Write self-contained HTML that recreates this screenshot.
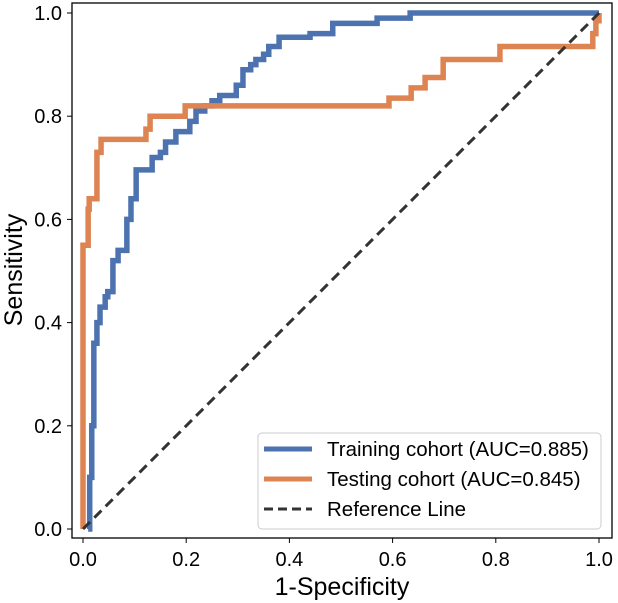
<!DOCTYPE html>
<html><head><meta charset="utf-8"><style>
html,body{margin:0;padding:0;background:#fff;}
svg{display:block;font-family:"Liberation Sans",Arial,sans-serif;}
</style></head><body>
<svg id="chart" width="618" height="603" viewBox="0 0 618 603">
<rect x="0" y="0" width="618" height="603" fill="#fff"/>
<g id="series"></g>
<rect x="72" y="3" width="540" height="535" fill="none" stroke="#000" stroke-width="1.3"/>
<g id="xticks"></g>
<g id="yticks"></g>
<text x="342" y="595" font-size="25" text-anchor="middle" fill="#000">1-Specificity</text>
<text transform="translate(22,270) rotate(-90)" font-size="25" text-anchor="middle" fill="#000">Sensitivity</text>
<g>
<rect x="258" y="433" width="343" height="96" rx="4" fill="#fff" fill-opacity="0.85" stroke="#ccc" stroke-width="1"/>
<g>
<line x1="264" y1="449" x2="312" y2="449" stroke="#4C72B0" stroke-width="5"/>
<text x="327" y="456" font-size="20.5" fill="#000">Training cohort (AUC=0.885)</text></g>
<g>
<line x1="264" y1="479" x2="312" y2="479" stroke="#DD8452" stroke-width="5"/>
<text x="327" y="486" font-size="20.5" fill="#000">Testing cohort (AUC=0.845)</text></g>
<g>
<line x1="264" y1="509" x2="312" y2="509" stroke="#333" stroke-width="3" stroke-dasharray="9,5"/>
<text x="327" y="516" font-size="20.5" fill="#000">Reference Line</text></g>
</g>
</svg>
<script>
const xTicks=[0,0.2,0.4,0.6,0.8,1.0];
const yTicks=[0,0.2,0.4,0.6,0.8,1.0];
const trainFpr=[0.01,0.01,0.013,0.017,0.021,0.027,0.033,0.043,0.048,0.058,0.068,0.085,0.093,0.103,0.13,0.134,0.15,0.16,0.18,0.2,0.207,0.219,0.236,0.25,0.265,0.29,0.297,0.31,0.325,0.335,0.35,0.36,0.38,0.44,0.484,0.57,0.634,1.0];
const trainTpr=[0,0,0.1,0.2,0.36,0.4,0.43,0.45,0.46,0.52,0.54,0.6,0.64,0.696,0.696,0.72,0.73,0.75,0.77,0.77,0.79,0.81,0.82,0.83,0.84,0.84,0.86,0.89,0.9,0.91,0.92,0.935,0.953,0.96,0.98,0.99,1.0,1.0];
const testFpr=[0,0,0.003,0.01,0.012,0.027,0.035,0.122,0.13,0.198,0.593,0.636,0.663,0.698,0.808,0.988,0.994,1.0];
const testTpr=[0,0.55,0.55,0.62,0.64,0.73,0.755,0.775,0.8,0.82,0.835,0.855,0.875,0.91,0.935,0.96,0.985,1.0];
const refX=[0,1];
const refY=[0,1];
const NS='http://www.w3.org/2000/svg';
const sx=v=>83+v*516;
const sy=v=>529-v*516;
function stepPath(xs,ys){let d='M'+sx(xs[0])+','+sy(ys[0]);for(let i=1;i<xs.length;i++){d+=' L'+sx(xs[i])+','+sy(ys[i-1])+' L'+sx(xs[i])+','+sy(ys[i]);}return d;}
const g=document.getElementById('series');
const p1=document.createElementNS(NS,'path');
p1.setAttribute('d',stepPath(trainFpr,trainTpr));
p1.setAttribute('fill','none');p1.setAttribute('stroke','#4C72B0');p1.setAttribute('stroke-width','5.5');


g.appendChild(p1);
const p2=document.createElementNS(NS,'path');
p2.setAttribute('d',stepPath(testFpr,testTpr));
p2.setAttribute('fill','none');p2.setAttribute('stroke','#DD8452');p2.setAttribute('stroke-width','5.5');


g.appendChild(p2);
const p3=document.createElementNS(NS,'line');
p3.setAttribute('x1',sx(refX[0]));p3.setAttribute('y1',sy(refY[0]));p3.setAttribute('x2',sx(refX[1]));p3.setAttribute('y2',sy(refY[1]));
p3.setAttribute('stroke','#333');p3.setAttribute('stroke-width','3');p3.setAttribute('stroke-dasharray','10,6');


g.appendChild(p3);
const xg=document.getElementById('xticks');
xTicks.forEach(v=>{
const l=document.createElementNS(NS,'line');l.setAttribute('x1',sx(v));l.setAttribute('x2',sx(v));l.setAttribute('y1',538);l.setAttribute('y2',543);l.setAttribute('stroke','#000');


xg.appendChild(l);
const t=document.createElementNS(NS,'text');t.setAttribute('x',sx(v));t.setAttribute('y',566);t.setAttribute('font-size','20');t.setAttribute('text-anchor','middle');t.textContent=v.toFixed(1);


xg.appendChild(t);});
const yg=document.getElementById('yticks');
yTicks.forEach(v=>{
const l=document.createElementNS(NS,'line');l.setAttribute('x1',67);l.setAttribute('x2',72);l.setAttribute('y1',sy(v));l.setAttribute('y2',sy(v));l.setAttribute('stroke','#000');


yg.appendChild(l);
const t=document.createElementNS(NS,'text');t.setAttribute('x',62);t.setAttribute('y',sy(v)+7);t.setAttribute('font-size','20');t.setAttribute('text-anchor','end');t.textContent=v.toFixed(1);


yg.appendChild(t);});
</script>
</body></html>
